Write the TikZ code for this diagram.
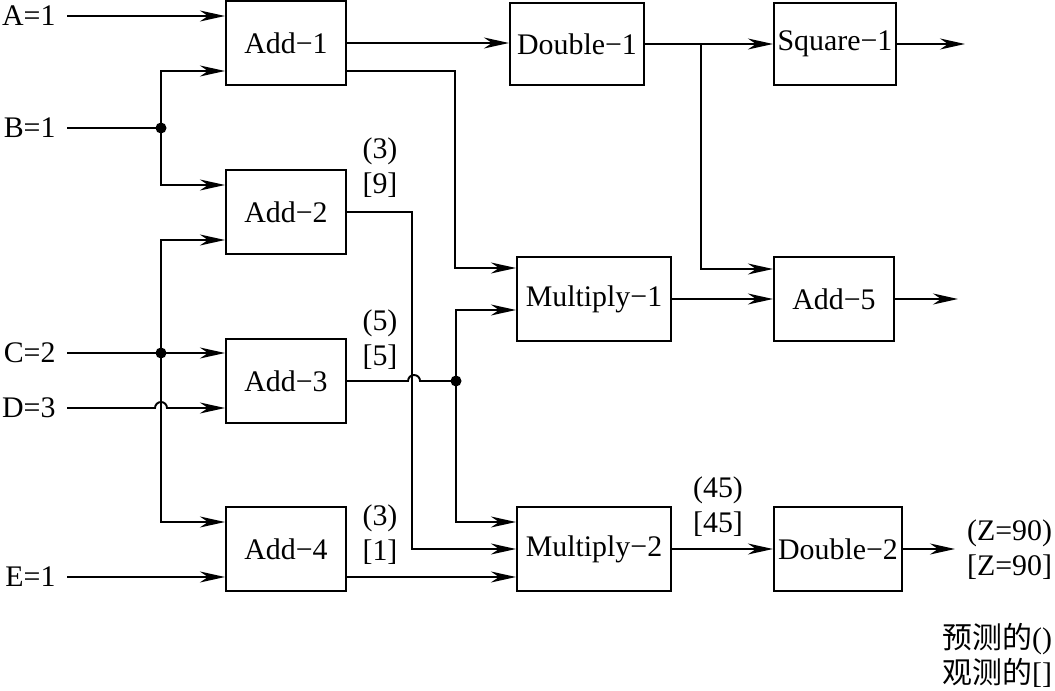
\documentclass[tikz,border=0pt]{standalone}
\usepackage{fontspec}
\setmainfont{Liberation Serif}
\newfontfamily\cjk{Noto Sans CJK SC}
\usepackage{tikz}
\usetikzlibrary{arrows.meta, positioning, calc}

\tikzset{
  blk/.style={draw, line width=1.2pt, minimum height=16.8mm, inner sep=0pt},
  lbl/.style={inner xsep=6pt, inner ysep=1pt},
  val/.style={inner sep=0pt, align=center},
  arr/.style={-{Stealth[length=5mm, width=2.2mm, inset=1.6mm]}},
  dot/.style={circle, fill, inner sep=0pt, minimum size=2.2mm},
}

\begin{document}
\begin{tikzpicture}[x=0.2mm, y=-0.2mm, line width=1.1pt, font=\fontsize{17}{20}\selectfont]
    \useasboundingbox (0,0) rectangle (1055,691);

    % Blocchi
    \node[blk, minimum width=24mm] (add1) at (286,43) {Add−1};
    \node[blk, minimum width=24mm] (add2) at (286,212) {Add−2};
    \node[blk, minimum width=24mm] (add3) at (286,381) {Add−3};
    \node[blk, minimum width=24mm] (add4) at (286,549) {Add−4};
    \node[blk, minimum width=26.8mm, minimum height=16.4mm] (dbl1) at (577,44) {Double−1};
    \node[blk, minimum width=24.4mm, minimum height=16.4mm] (sq1) at (835,44) {Square−1};
    \node[blk, minimum width=30.8mm] (mul1) at (594,299) {Multiply−1};
    \node[blk, minimum width=24mm] (add5) at (834,299) {Add−5};
    \node[blk, minimum width=30.8mm] (mul2) at (594,549) {Multiply−2};
    \node[blk, minimum width=25.6mm] (dbl2) at (838,549) {Double−2};

    % Ingressi
    \node[lbl, anchor=east] (inA) at (67,16) {A=1};
    \node[lbl, anchor=east] (inB) at (67,128) {B=1};
    \node[lbl, anchor=east] (inC) at (67,353) {C=2};
    \node[lbl, anchor=east] (inD) at (67,408) {D=3};
    \node[lbl, anchor=east] (inE) at (67,577) {E=1};

    % Nodi di diramazione
    \coordinate (jB) at (161,128);
    \coordinate (jC) at (161,353);
    \coordinate (jM) at (456,381);
    \coordinate (jS) at ($(dbl1.east)+(56,0)$);
    \coordinate (outS) at (965,44);
    \coordinate (out5) at (958,299);
    \coordinate (outZ) at (955,549);

    % Collegamenti a sinistra
    \draw[arr] (inA.east) -- (inA.east -| add1.west);
    \draw (inB.east) -- (jB);
    \draw[arr] (jB) |- ($(add1.west)+(0,28)$);
    \draw[arr] (jB) |- ($(add2.west)+(0,-27)$);
    \draw[arr] (inC.east) -- (inC.east -| add3.west);
    \draw[arr] (jC) |- ($(add2.west)+(0,28)$);
    \draw[arr] (jC) |- ($(add4.west)+(0,-27)$);
    \draw[arr] (inD.east) -- ($(inD.east -| jC)+(-6,0)$) arc[start angle=180, end angle=0, radius=1.2mm] -- (inD.east -| add3.west);
    \draw[arr] (inE.east) -- (inE.east -| add4.west);

    % Collegamenti centrali
    \draw[arr] (add1.east) -- (add1.east -| dbl1.west);
    \draw[arr] ($(add1.east)+(0,28)$) -| ($(mul1.west)+(-61,-31)$) -- ($(mul1.west)+(0,-31)$);
    \draw[arr] (add2.east) -| ($(mul2.west)+(-104,0)$) -- (mul2.west);
    \draw (add3.east) -- ($(add3.east)+(61,0)$) arc[start angle=180, end angle=0, radius=1.2mm] -- (jM);
    \draw[arr] (jM) |- ($(mul1.west)+(0,11)$);
    \draw[arr] (jM) |- ($(mul2.west)+(0,-27)$);
    \draw[arr] ($(add4.east)+(0,28)$) -- ($(mul2.west)+(0,28)$);

    % Collegamenti a destra
    \draw[arr] (dbl1.east) -- (dbl1.east -| sq1.west);
    \draw[arr] (jS) |- ($(add5.west)+(0,-30)$);
    \draw[arr] (sq1.east) -- (sq1.east -| outS);
    \draw[arr] (mul1.east) -- (mul1.east -| add5.west);
    \draw[arr] (add5.east) -- (add5.east -| out5);
    \draw[arr] (mul2.east) -- (mul2.east -| dbl2.west);
    \draw[arr] (dbl2.east) -- (dbl2.east -| outZ);

    \node[dot] at (jB) {};
    \node[dot] at (jC) {};
    \node[dot] at (jM) {};

    % Valori previsti () e osservati []
    \node[val] (v2) at (380,168) {(3)\\{[9]}};
    \node[val] (v3) at (380,340) {(5)\\{[5]}};
    \node[val] (v4) at (380,535) {(3)\\{[1]}};
    \node[val] (v6) at (718,507) {(45)\\{[45]}};
    \node[val, anchor=east] (vZ) at (1053,550) {(Z=90)\\{[Z=90]}};
    \node[val, align=right, anchor=east] (note) at (1053,655) {{\cjk 预测的}()\\{\cjk 观测的}[]};
\end{tikzpicture}
\end{document}
